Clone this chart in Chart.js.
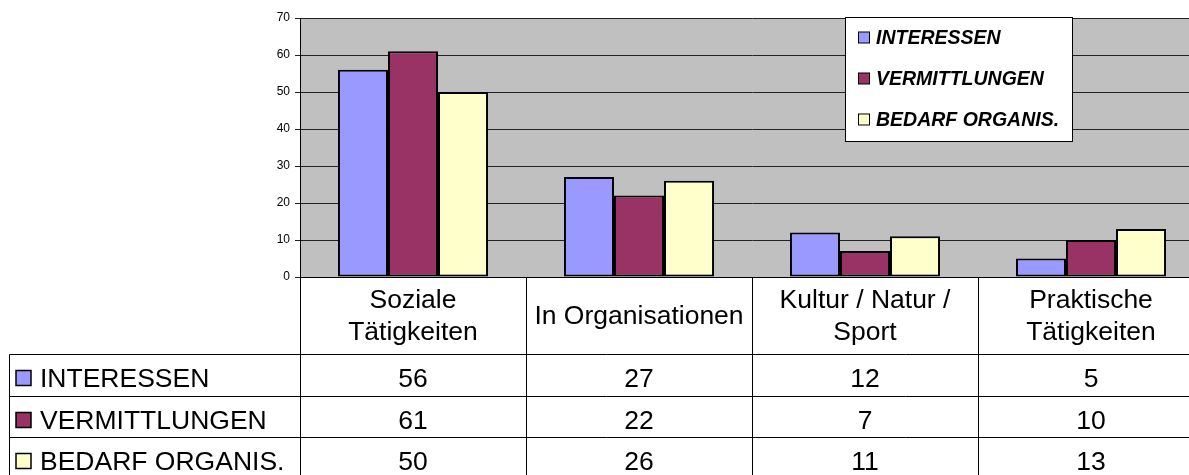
<!DOCTYPE html>
<html>
<head>
<meta charset="utf-8">
<script src="https://cdn.jsdelivr.net/npm/chart.js@4.4.1/dist/chart.umd.min.js"></script>
<style>
  html, body { margin: 0; padding: 0; background: #fff; overflow: hidden; }
  #wrap { width: 1204px; height: 475px; }
</style>
</head>
<body>
<div id="wrap"><canvas id="chart" width="1204" height="475"></canvas></div>
<script>
// data
const categories = [['Soziale', 'Tätigkeiten'], ['In Organisationen'], ['Kultur / Natur /', 'Sport'], ['Praktische', 'Tätigkeiten']];
const seriesNames = ['INTERESSEN', 'VERMITTLUNGEN', 'BEDARF ORGANIS.'];
const interessen = [56, 27, 12, 5];
const vermittlungen = [61, 22, 7, 10];
const bedarf = [50, 26, 11, 13];
const yTicks = [0, 10, 20, 30, 40, 50, 60, 70];

const colors = ['#9999FF', '#993366', '#FFFFCC'];
const FONT = '"Liberation Sans", Arial, sans-serif';

// grey plot background
const plotBackground = {
    id: 'plotBackground',
    beforeDraw(chart) {
        const { ctx, chartArea: a } = chart;
        ctx.save();
        ctx.fillStyle = '#C0C0C0';
        ctx.fillRect(a.left, a.top, a.right - a.left, a.bottom - a.top);
        ctx.restore();
    }
};

// legend box inside the plot + data table under the axis
const tableAndLegend = {
    id: 'tableAndLegend',
    afterDraw(chart) {
        const { ctx, chartArea: a } = chart;
        const x = chart.scales.x;
        const half = (x.getPixelForValue(1) - x.getPixelForValue(0)) / 2;
        const datasets = chart.data.datasets;

        ctx.save();

        // legend
        const lx = 845.5, ly = 17.5, lw = 227, lh = 124;
        ctx.fillStyle = '#fff';
        ctx.fillRect(lx, ly, lw, lh);
        ctx.strokeStyle = '#000';
        ctx.lineWidth = 1;
        ctx.strokeRect(lx, ly, lw, lh);
        ctx.font = 'italic bold 19.5px ' + FONT;
        ctx.textBaseline = 'middle';
        ctx.textAlign = 'left';
        datasets.forEach((ds, i) => {
            const cy = 38 + i * 41;
            ctx.fillStyle = ds.backgroundColor;
            ctx.fillRect(858.5, cy - 6, 11, 11);
            ctx.strokeRect(858.5, cy - 6, 11, 11);
            ctx.fillStyle = '#000';
            ctx.fillText(ds.label, 876, cy + 1);
        });

        // table grid
        const rowTops = [354.5, 396.5, 437.5, 479.5];
        const right = chart.width;
        ctx.strokeStyle = '#000';
        ctx.lineWidth = 1;
        ctx.beginPath();
        rowTops.slice(0, 3).forEach(y => { ctx.moveTo(9.5, y); ctx.lineTo(right, y); });
        ctx.moveTo(9.5, rowTops[0]); ctx.lineTo(9.5, 480);
        for (let i = 0; i < categories.length; i++) {
            const bx = Math.round(x.getPixelForValue(i) - half) + 0.5;
            ctx.moveTo(bx, a.bottom); ctx.lineTo(bx, 480);
        }
        ctx.stroke();

        // header labels
        ctx.fillStyle = '#000';
        ctx.font = '26.5px ' + FONT;
        ctx.textAlign = 'center';
        ctx.textBaseline = 'alphabetic';
        categories.forEach((lines, i) => {
            const cx = x.getPixelForValue(i);
            const mid = 324;
            const start = mid - (lines.length - 1) * 16;
            lines.forEach((t, j) => ctx.fillText(t, cx, start + j * 32));
        });

        // rows
        datasets.forEach((ds, r) => {
            const base = rowTops[r] + 32.5;
            ctx.fillStyle = ds.backgroundColor;
            ctx.lineWidth = 1.5;
            ctx.fillRect(16, rowTops[r] + 16, 15, 15);
            ctx.strokeRect(16, rowTops[r] + 16, 15, 15);
            ctx.fillStyle = '#000';
            ctx.textAlign = 'left';
            ctx.fillText(ds.label, 40, base);
            ctx.textAlign = 'center';
            ds.data.forEach((v, i) => ctx.fillText(String(v), x.getPixelForValue(i), base));
        });

        ctx.restore();
    }
};

const barStyle = { borderColor: '#000', borderWidth: 2, borderSkipped: false, categoryPercentage: 0.664, barPercentage: 1 };

new Chart(document.getElementById('chart'), {
    type: 'bar',
    data: {
        labels: categories.map(c => c.join(' ')),
        datasets: [
            { label: seriesNames[0], data: interessen, backgroundColor: colors[0], ...barStyle },
            { label: seriesNames[1], data: vermittlungen, backgroundColor: colors[1], ...barStyle },
            { label: seriesNames[2], data: bedarf, backgroundColor: colors[2], ...barStyle }
        ]
    },
    options: {
        responsive: false,
        animation: false,
        layout: { padding: { top: 18, right: 0, bottom: 0, left: 0 } },
        plugins: { legend: { display: false }, tooltip: { enabled: false } },
        scales: {
            x: {
                ticks: { display: false },
                grid: { display: false },
                border: { display: true, color: '#000', width: 1 },
                afterFit: s => { s.height = 475 - 277; }
            },
            y: {
                min: 0,
                max: 70,
                afterBuildTicks: s => { s.ticks = yTicks.map(v => ({ value: v })); },
                ticks: { color: '#000', font: { family: FONT, size: 12 }, padding: 5 },
                grid: { color: '#222', lineWidth: 1, tickLength: 5, drawTicks: true },
                border: { display: true, color: '#000', width: 1 },
                afterFit: s => { s.width = 300; }
            }
        }
    },
    plugins: [plotBackground, tableAndLegend]
});
</script>
</body>
</html>
